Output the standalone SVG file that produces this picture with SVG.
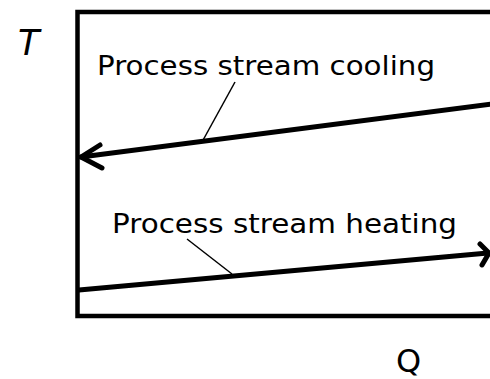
<svg xmlns="http://www.w3.org/2000/svg" width="490" height="379" viewBox="0 0 490 379">
<style>
.lbl{font-family:"Comic Sans MS","DejaVu Sans","Open Sans",sans-serif;font-size:26px;fill:#000}
.ax{font-family:"DejaVu Sans","Open Sans",sans-serif;fill:#000}
.frame{fill:none;stroke:#000;stroke-width:4.5}
.stream{fill:none;stroke:#000;stroke-width:5;stroke-linecap:round;stroke-linejoin:round}
.leader{fill:none;stroke:#000;stroke-width:1.5}
</style>
<rect width="490" height="379" fill="#fff"/>
<g id="frame">
<path class="frame" d="M492 12 H77.5 V316 H492"/>
</g>
<g id="axis-T"><text class="ax" x="18" y="55" font-size="35" font-style="italic">T</text></g>
<g id="axis-Q"><text class="ax" x="396" y="372" font-size="32">Q</text></g>
<g id="label-cooling"><text class="lbl" x="97" y="75" textLength="338" lengthAdjust="spacingAndGlyphs">Process stream cooling</text></g>
<g id="label-heating"><text class="lbl" x="112" y="233" textLength="345" lengthAdjust="spacingAndGlyphs">Process stream heating</text></g>
<g id="connectors">
<path class="stream" d="M492 104 L81 157"/>
<path class="stream" d="M100 145 L81 157 L102 168"/>
<path class="stream" d="M79 290 L488 253"/>
<path class="stream" d="M480 244 L489 253 L482 265"/>
<path class="leader" d="M235 82 L202 142"/>
<path class="leader" d="M187 239 L232 274"/>
</g>
</svg>
